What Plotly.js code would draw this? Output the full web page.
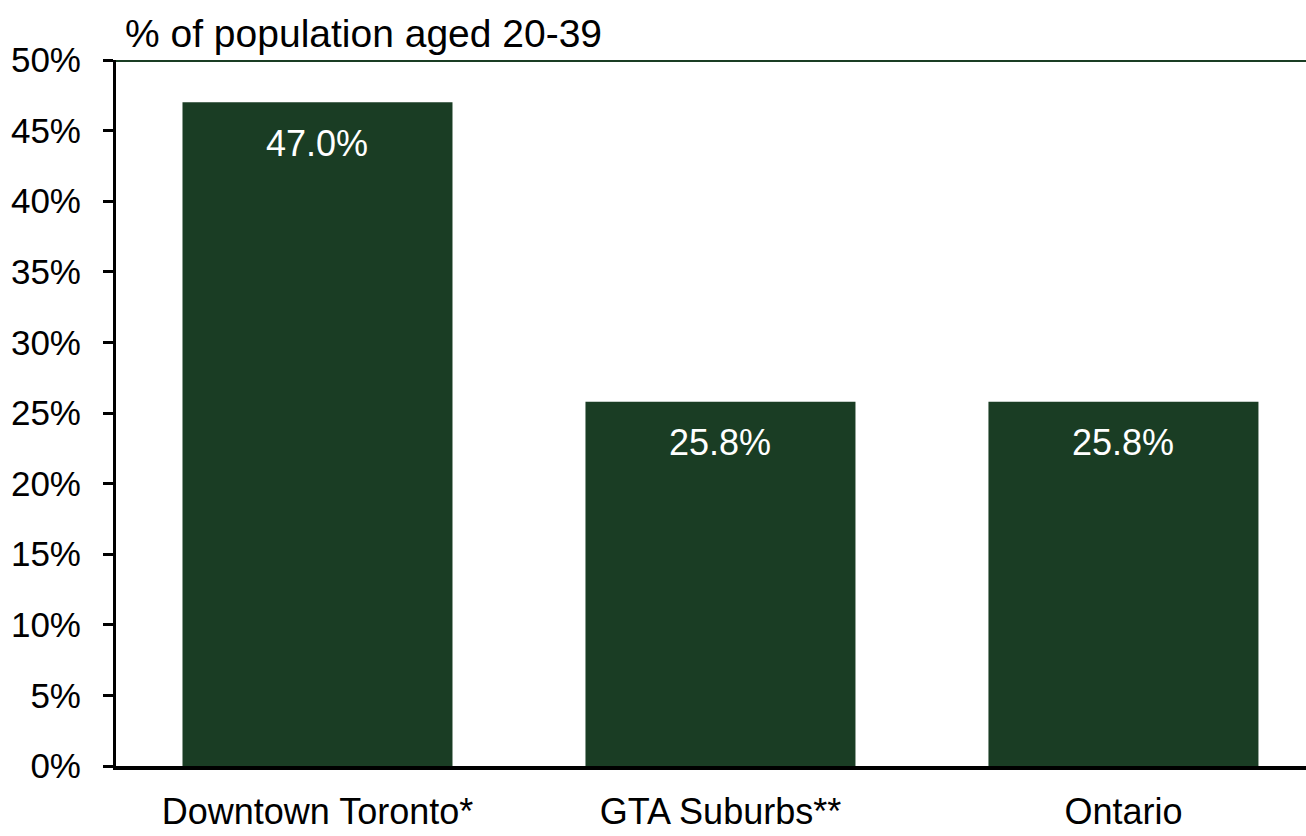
<!DOCTYPE html>
<html>
<head>
<meta charset="utf-8">
<script src="https://cdn.plot.ly/plotly-3.0.1.min.js"></script>
<style>html,body{margin:0;padding:0;background:#fff;}#chart{width:1306px;height:836px;}</style>
</head>
<body>
<div id="chart"></div>
<script>
var categories = ["Downtown Toronto*", "GTA Suburbs**", "Ontario"];
var values = [47.0, 25.8, 25.8];
var yTickVals = [0, 5, 10, 15, 20, 25, 30, 35, 40, 45, 50];
var yTickText = ["0%", "5%", "10%", "15%", "20%", "25%", "30%", "35%", "40%", "45%", "50%"];
var titleText = "% of population aged 20-39";

var barColor = "#1A3D24";
var fontFam = "'Liberation Sans', Arial, sans-serif";

var trace = {
  type: "bar",
  x: categories,
  y: values,
  marker: {color: barColor, line: {width: 0}},
  hoverinfo: "none"
};

var annotations = categories.map(function (c, i) {
  return {
    x: c, y: values[i], xref: "x", yref: "y",
    text: values[i].toFixed(1) + "%",
    showarrow: false, yshift: -41,
    font: {family: fontFam, size: 36, color: "#ffffff"}
  };
});

var layout = {
  width: 1306, height: 836,
  margin: {l: 116, r: 0, t: 60, b: 70},
  paper_bgcolor: "#ffffff", plot_bgcolor: "#ffffff",
  showlegend: false,
  bargap: 0.33,
  font: {family: fontFam, size: 35, color: "#000000"},
  title: {
    text: titleText, x: 125 / 1306, xanchor: "left",
    y: 1 - 33 / 836, yanchor: "middle", yref: "container",
    font: {family: fontFam, size: 39, color: "#000000"}
  },
  xaxis: {
    type: "category",
    range: [-0.5, 2.453],
    showline: true, linecolor: "#000000", linewidth: 4,
    ticks: "", showgrid: false, zeroline: false,
    tickfont: {family: fontFam, size: 36, color: "#000000"},
    ticklabelstandoff: 11
  },
  yaxis: {
    range: [0, 50],
    tickvals: yTickVals, ticktext: yTickText,
    showline: true, linecolor: "#000000", linewidth: 3,
    ticks: "outside", ticklen: 10, tickwidth: 3, tickcolor: "#000000",
    showgrid: false, zeroline: false,
    tickfont: {family: fontFam, size: 35, color: "#000000"},
    ticklabelstandoff: 15
  },
  shapes: [{
    type: "line", xref: "paper", yref: "y",
    x0: 0, x1: 1, y0: 50, y1: 50,
    line: {color: barColor, width: 4}
  }],
  annotations: annotations
};

Plotly.newPlot("chart", [trace], layout, {displayModeBar: false, staticPlot: true});
</script>
</body>
</html>
